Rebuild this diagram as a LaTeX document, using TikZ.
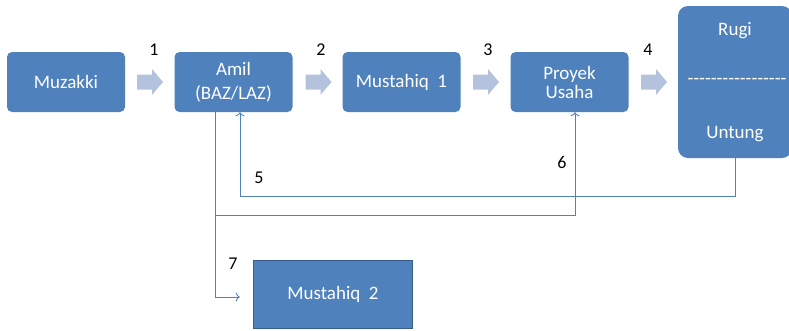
\documentclass[tikz,border=0pt]{standalone}
\usepackage{fontspec}
\setmainfont{Carlito}
\usetikzlibrary{arrows.meta}
\definecolor{boxblue}{HTML}{4F81BD}
\definecolor{boxedge}{HTML}{385D8A}
\definecolor{flowblue}{HTML}{B3C3DE}
\def\hy{-\kern0pt}
\begin{document}
\begin{tikzpicture}[x=1pt,y=-1pt,
  stage/.style={fill=boxblue, rounded corners=5pt, text=white, minimum width=118pt,
    minimum height=60pt, inner sep=0pt, align=center, font=\fontsize{19}{19}\selectfont},
  flowarrow/.pic={\fill[flowblue] (-13,-7.5) -- (2,-7.5) -- (2,-13) -- (13,0)
    -- (2,13) -- (2,7.5) -- (-13,7.5) -- cycle;},
  link/.style={draw=boxblue, line width=0.9pt, -{To[length=4pt,width=9pt]}},
  num/.style={font=\fontsize{18}{18}\selectfont, text=black, inner sep=0pt},
  inbox/.style={text=white, font=\fontsize{19}{18}\selectfont, inner sep=0pt}]
\useasboundingbox (0,0) rectangle (789,330);
\clip (0,0) rectangle (789,330);

% main chain of stages
\node[stage] (muz)  at (66,82)    {Muzakki};
\node[stage] (amil) at (233.5,82) {Amil\\[5pt](BAZ/LAZ)};
\node[stage] (mus1) at (401.5,82) {Mustahiq\ \ 1};
\node[stage] (proy) at (569.5,82) {Proyek\\Usaha};

% outcome box
\node[fill=boxblue, rounded corners=10pt, minimum width=114pt, minimum height=152pt,
  inner sep=0pt] (hasil) at (735,82) {};
\node[inbox] (rugi)   at (735,31)  {Rugi};
\node[inbox] (garis)  at (737,81)  {\hy\hy\hy\hy\hy\hy\hy\hy\hy\hy\hy\hy\hy\hy\hy\hy\hy};
\node[inbox] (untung) at (735,134) {Untung};

% second beneficiary
\node[fill=boxblue, draw=boxedge, line width=1.5pt, minimum width=159pt, minimum height=68pt,
  inner sep=0pt, text=white, font=\fontsize{19}{18}\selectfont] (mus2) at (333,294.5) {Mustahiq\ \ 2};

% block arrows between stages
\pic (f1) at (150,82)   {flowarrow};
\pic (f2) at (318.5,82) {flowarrow};
\pic (f3) at (486,82)   {flowarrow};
\pic (f4) at (654,82)   {flowarrow};

% step numbers
\node[num] (n1) at (154,50)  {1};
\node[num] (n2) at (321,50)  {2};
\node[num] (n3) at (488,50)  {3};
\node[num] (n4) at (648,50)  {4};
\node[num] (n5) at (259,178) {5};
\node[num] (n6) at (562,162) {6};
\node[num] (n7) at (233,264) {7};

% return and distribution lines
\coordinate (p5) at (240,196);
\coordinate (p6) at (215,215);
\draw[link] (hasil.south) |- (p5) -- (p5 |- amil.south);
\draw[link] (amil.south -| p6) -- (p6) -| ([xshift=5.5pt]proy.south);
\draw[link] (p6) |- ([xshift=-13pt,yshift=-2.5pt]mus2.west);
\end{tikzpicture}
\end{document}
